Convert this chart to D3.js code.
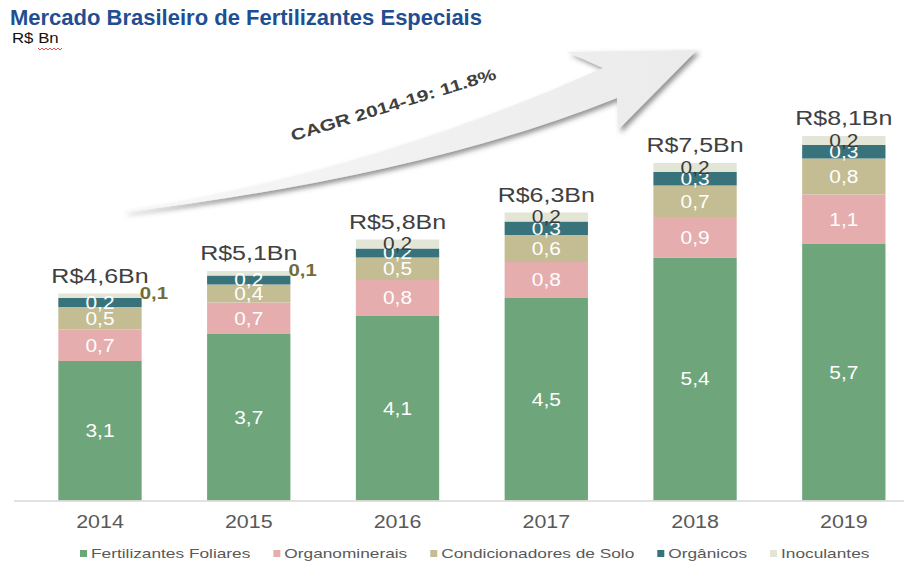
<!DOCTYPE html>
<html><head><meta charset="utf-8">
<script src="https://cdn.jsdelivr.net/npm/d3@7"></script>
<style>
html,body{margin:0;padding:0;background:#fff;}
svg{display:block;font-family:"Liberation Sans", Arial, Helvetica, sans-serif;}
</style></head><body>
<svg id="chart" width="904" height="564"></svg>
<script>
// ---- data (R$ bilhões) ----
const years = ["2014", "2015", "2016", "2017", "2018", "2019"];
const seriesNames = ["Fertilizantes Foliares", "Organominerais", "Condicionadores de Solo", "Orgânicos", "Inoculantes"];
const foliares        = [3.1, 3.7, 4.1, 4.5, 5.4, 5.7];
const organominerais  = [0.7, 0.7, 0.8, 0.8, 0.9, 1.1];
const condicionadores = [0.5, 0.4, 0.5, 0.6, 0.7, 0.8];
const organicos       = [0.2, 0.2, 0.2, 0.3, 0.3, 0.3];
const inoculantes     = [0.1, 0.1, 0.2, 0.2, 0.2, 0.2];
const totals          = [4.6, 5.1, 5.8, 6.3, 7.5, 8.1];
const seriesColors = ["#6ea57b", "#e5adad", "#c4bd93", "#38737c", "#e3e5d6"];
const titleText = "Mercado Brasileiro de Fertilizantes Especiais";
const unitText = "R$ Bn";
const cagrText = "CAGR 2014-19: 11.8%";

const keys = ["foliares", "organominerais", "condicionadores", "organicos", "inoculantes"];
const seriesValues = [foliares, organominerais, condicionadores, organicos, inoculantes];
const rows = years.map((yr, i) => {
  const r = { year: yr, total: totals[i] };
  keys.forEach((k, j) => r[k] = seriesValues[j][i]);
  return r;
});

const W = 904, H = 564;
const svg = d3.select("#chart");

const x = d3.scaleBand().domain(years).range([25.6, 918.2]).paddingInner(0.44).paddingOuter(0.22);
const y = d3.scaleLinear().domain([0, 10]).range([500.5, 50.5]);
const color = d3.scaleOrdinal().domain(keys).range(seriesColors);
const fmt = v => d3.format(".1f")(v).replace(".", ",");

const stacked = d3.stack().keys(keys)(rows);

// ---- growth arrow ----
const defs = svg.append("defs");
const f = defs.append("filter").attr("id", "arrowShadow")
  .attr("x", "-10%").attr("y", "-20%").attr("width", "130%").attr("height", "160%");
f.append("feDropShadow").attr("dx", 3).attr("dy", 3).attr("stdDeviation", 2.4)
  .attr("flood-color", "#4d4d4d").attr("flood-opacity", 0.6);
const g1 = defs.append("linearGradient").attr("id", "arrowFill").attr("x1", "0").attr("x2", "1").attr("y1", "0").attr("y2", "0");
g1.append("stop").attr("offset", "0").attr("stop-color", "#f7f7f7");
g1.append("stop").attr("offset", "1").attr("stop-color", "#ebebeb");

const arrow = d3.path();
arrow.moveTo(125, 211);
arrow.quadraticCurveTo(369, 173, 603, 68);
arrow.lineTo(567, 52);
arrow.lineTo(697, 50);
arrow.lineTo(618, 130);
arrow.lineTo(617, 98);
arrow.quadraticCurveTo(421, 176.5, 125, 212);
arrow.closePath();
svg.append("path").attr("d", arrow.toString())
  .attr("fill", "url(#arrowFill)").attr("filter", "url(#arrowShadow)");

svg.append("text")
  .attr("transform", "translate(395,110) rotate(-17) scale(1.3,1)")
  .attr("text-anchor", "middle")
  .attr("font-size", 16).attr("font-weight", "bold").attr("fill", "#404040")
  .text(cagrText);

// ---- title ----
svg.append("text").attr("x", 10).attr("y", 25)
  .attr("font-size", 22).attr("font-weight", "bold").attr("fill", "#1f4f91")
  .text(titleText);
svg.append("text").attr("transform", "translate(12,43) scale(1.2,1)")
  .attr("font-size", 14).attr("fill", "#111").text(unitText);
// spell-check squiggle under "Bn"
const sq = d3.path();
sq.moveTo(38, 48);
for (let i = 0; i < 12; i++) sq.lineTo(40 + i * 2, i % 2 === 0 ? 50 : 48);
svg.append("path").attr("d", sq.toString()).attr("fill", "none")
  .attr("stroke", "#e03c3c").attr("stroke-width", 0.9);

// ---- bars ----
const layers = svg.append("g").selectAll("g").data(stacked).join("g")
  .attr("fill", d => color(d.key));
layers.selectAll("rect").data(d => d).join("rect")
  .attr("x", d => x(d.data.year))
  .attr("width", x.bandwidth())
  .attr("y", d => y(d[1]))
  .attr("height", d => y(d[0]) - y(d[1]));

// ---- segment labels ----
const labelG = svg.append("g");
stacked.forEach((layer, li) => {
  layer.forEach(d => {
    const v = d[1] - d[0];
    const cx = x(d.data.year) + x.bandwidth() / 2;
    const cy = (y(d[0]) + y(d[1])) / 2;
    if (li === keys.length - 1 && v < 0.15) {
      // small values sit outside, right of the bar top
      labelG.append("text")
        .attr("transform", `translate(${x(d.data.year) + x.bandwidth() - 2},${cy - 3 + 0.358 * 17}) scale(1.2,1)`)
        .attr("font-size", 17).attr("font-weight", "bold").attr("fill", "#716c3a")
        .text(fmt(v));
    } else {
      labelG.append("text")
        .attr("transform", `translate(${cx},${cy + 0.358 * 18}) scale(1.16,1)`)
        .attr("text-anchor", "middle")
        .attr("font-size", 18)
        .attr("fill", li === keys.length - 1 ? "#3a3a3a" : "#ffffff")
        .text(fmt(v));
    }
  });
});

// ---- totals ----
const topLayer = stacked[stacked.length - 1];
svg.append("g").selectAll("text").data(topLayer).join("text")
  .attr("transform", d => `translate(${x(d.data.year) + x.bandwidth() / 2},${y(d[1]) - 11}) scale(1.25,1)`)
  .attr("text-anchor", "middle")
  .attr("font-size", 20).attr("fill", "#404040")
  .text(d => "R$" + fmt(d.data.total) + "Bn");

// ---- x axis ----
svg.append("line").attr("x1", 14).attr("x2", W).attr("y1", y(0) + 0.5).attr("y2", y(0) + 0.5)
  .attr("stroke", "#d9d9d9").attr("stroke-width", 1.5);
const xAxis = svg.append("g").attr("transform", `translate(0,${y(0)})`)
  .call(d3.axisBottom(x).tickSize(0).tickPadding(0));
xAxis.select(".domain").remove();
xAxis.selectAll("text")
  .attr("y", null).attr("dy", null)
  .attr("transform", "translate(0,27) scale(1.19,1)")
  .attr("font-size", 18).attr("font-family", "Liberation Sans, Arial, sans-serif")
  .attr("fill", "#595959");

// ---- legend ----
const legend = svg.append("g");
let lx = 80;
seriesNames.forEach((name, i) => {
  legend.append("rect").attr("x", lx).attr("y", 550).attr("width", 7).attr("height", 7)
    .attr("fill", seriesColors[i]);
  const t = legend.append("text")
    .attr("transform", `translate(${lx + 11},558) scale(1.28,1)`)
    .attr("font-size", 13.5).attr("fill", "#595959").text(name);
  const w = t.node().getComputedTextLength() * 1.28;
  lx += 11 + w + 23;
});
</script>
</body></html>
